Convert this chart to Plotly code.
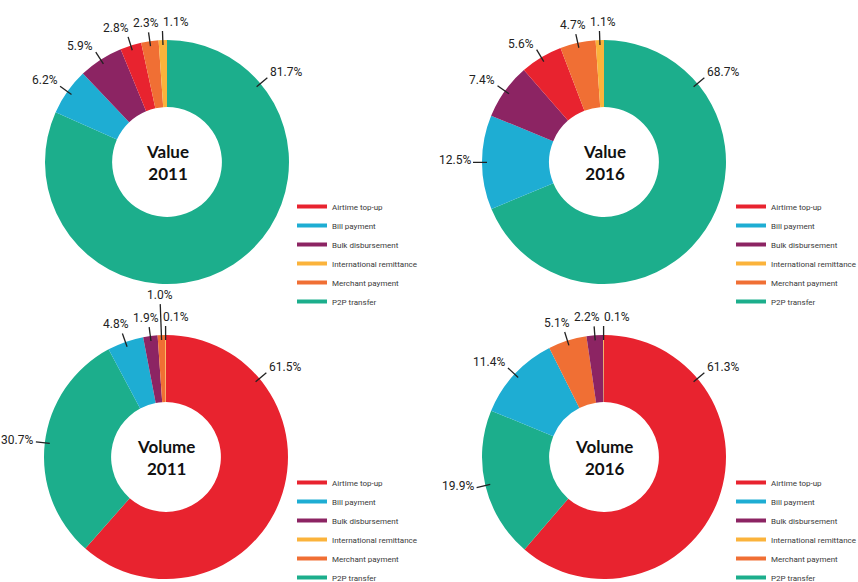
import math

import plotly.graph_objects as go

W, H = 858, 582

categories = [
    "Airtime top-up",
    "Bill payment",
    "Bulk disbursement",
    "International remittance",
    "Merchant payment",
    "P2P transfer",
]
colors = ["#e8232f", "#1eadd3", "#8c2463", "#fbb33b", "#f06f34", "#1cae8c"]

value_2011 = [2.8, 6.2, 5.9, 1.1, 2.3, 81.7]
value_2016 = [5.6, 12.5, 7.4, 1.1, 4.7, 68.7]
volume_2011 = [61.5, 4.8, 1.9, 0.1, 1.0, 30.7]
volume_2016 = [61.3, 11.4, 2.2, 0.1, 5.1, 19.9]

panel_titles = ["Value<br>2011", "Value<br>2016", "Volume<br>2011", "Volume<br>2016"]
panel_values = [value_2011, value_2016, volume_2011, volume_2016]

# layout in pixels: donut centres, radius, legend corners
centres = [(167, 162), (604, 162), (166, 457), (604, 457)]
radius = 122
legend_pos = [(292, 192), (731, 192), (292, 468), (731, 468)]
legend_ids = ["legend", "legend2", "legend3", "legend4"]

LABEL_FONT = dict(family="Roboto, sans-serif", size=12, color="#222222")
SPREAD = 30  # min distance between neighbouring labels on top of a donut


def px(x, y):
    return x / W, 1 - y / H


def slice_labels(values, cx, cy):
    """Leader lines and labels, in pixels, following plotly's sorted clockwise order."""
    order = sorted(range(len(values)), key=lambda i: -values[i])
    total = sum(values)
    start, spans = 0.0, []
    for i in order:
        span = 360 * values[i] / total
        spans.append((i, start, span))
        start += span

    mids = [s + sp / 2 for _, s, sp in spans]
    out = []
    for k, (i, s, sp) in enumerate(spans):
        ang = 50.0 if sp > 180 else mids[k]
        prev_gap = abs(mids[k] - mids[k - 1]) if k > 0 else 99
        next_gap = abs(mids[k + 1] - mids[k]) if k < len(spans) - 1 else 99
        raised = prev_gap < 6 and next_gap < 6
        ux, uy = math.sin(math.radians(ang)), -math.cos(math.radians(ang))
        r_out = radius + (31 if raised else 9)
        x0, y0 = cx + ux * (radius - 5), cy + uy * (radius - 5)
        x1, y1 = cx + ux * r_out, cy + uy * r_out
        if ux > 0.4:
            xa = "left"
        elif ux < -0.4:
            xa = "right"
        else:
            xa = "center"
        if uy < -0.5:
            ya = "bottom"
        elif uy > 0.5:
            ya = "top"
        else:
            ya = "middle"
        tx = x1 + (2 if xa == "left" else -1.5 if xa == "right" else 0)
        ty = y1 + (2 if ya == "bottom" and xa != "center" else -1 if ya == "bottom" else -2)
        out.append(dict(i=i, line=(x0, y0, x1, y1), tx=tx, ty=ty, xa=xa, ya=ya,
                        top=(xa == "center" and ya == "bottom" and not raised)))

    # spread crowded labels above the donut
    top = sorted([o for o in out if o["top"]], key=lambda o: o["tx"])
    groups = [[o] for o in top]
    merged = True
    while merged:
        merged = False
        for g in groups:
            m = sum(o["tx"] for o in g) / len(g)
            for j, o in enumerate(g):
                o["sx"] = m + (j - (len(g) - 1) / 2) * SPREAD
        for a in range(len(groups) - 1):
            if groups[a][-1]["sx"] + SPREAD > groups[a + 1][0]["sx"] + 0.01:
                groups[a] = groups[a] + groups.pop(a + 1)
                merged = True
                break
    for o in top:
        o["tx"] = o["sx"]
    return out


fig = go.Figure()
shapes, annotations = [], []

for p, (vals, title) in enumerate(zip(panel_values, panel_titles)):
    cx, cy = centres[p]
    x0, y1 = px(cx - radius, cy - radius)
    x1, y0 = px(cx + radius, cy + radius)
    fig.add_trace(
        go.Pie(
            labels=categories,
            values=vals,
            hole=0.45,
            sort=True,
            direction="clockwise",
            rotation=0,
            marker=dict(colors=colors, line=dict(width=0)),
            textinfo="none",
            showlegend=False,
            domain=dict(x=[x0, x1], y=[y0, y1]),
            name=title.replace("<br>", " "),
        )
    )
    for lab in slice_labels(vals, cx, cy):
        lx0, ly0, lx1, ly1 = lab["line"]
        a, b = px(lx0, ly0)
        c, d = px(lx1, ly1)
        shapes.append(dict(type="line", xref="paper", yref="paper", x0=a, y0=b, x1=c, y1=d,
                           line=dict(color="#222222", width=1.3)))
        tx, ty = px(lab["tx"], lab["ty"])
        annotations.append(dict(x=tx, y=ty, xref="paper", yref="paper", showarrow=False,
                                text=f"{vals[lab['i']]:.1f}%", xanchor=lab["xa"], yanchor=lab["ya"],
                                font=LABEL_FONT, borderpad=0))
    mx, my = px(cx, cy)
    annotations.append(dict(x=mx, y=my, xref="paper", yref="paper", showarrow=False,
                            text=f"<b>{title}</b>", xanchor="center", yanchor="middle",
                            font=dict(family="Lato, Open Sans, sans-serif", size=17, color="#111111")))

    for name, col in zip(categories, colors):
        fig.add_trace(
            go.Scatter(x=[None], y=[None], mode="lines", name=name, legend=legend_ids[p],
                       line=dict(color=col, width=4), hoverinfo="skip")
        )

legends = {}
for p, lid in enumerate(legend_ids):
    lx, ly = px(*legend_pos[p])
    legends[lid] = dict(x=lx, y=ly, xanchor="left", yanchor="top", bgcolor="rgba(0,0,0,0)",
                        font=dict(family="Roboto, sans-serif", size=8, color="#3a3a3a"),
                        itemwidth=30, tracegroupgap=0)

fig.update_layout(
    width=W,
    height=H,
    margin=dict(l=0, r=0, t=0, b=0, autoexpand=False),
    paper_bgcolor="white",
    plot_bgcolor="white",
    xaxis=dict(visible=False),
    yaxis=dict(visible=False),
    shapes=shapes,
    annotations=annotations,
    **legends,
)

# the page body has a default 8px margin; drop it so the figure fills the window
fig.write_html(
    "out.html",
    config={"displayModeBar": False},
    post_script="document.body.style.margin = '0px';",
)
